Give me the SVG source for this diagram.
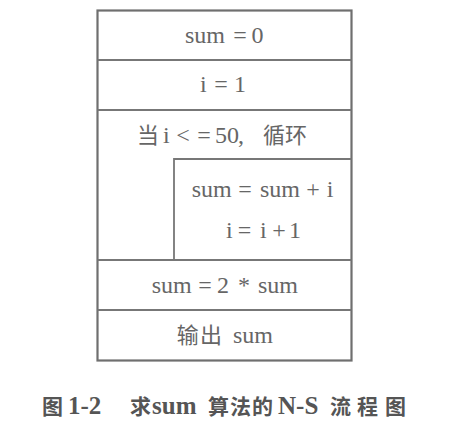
<svg xmlns="http://www.w3.org/2000/svg" width="457" height="436" viewBox="0 0 457 436">
<style>
.t{font-family:"Liberation Serif","Noto Sans CJK SC",serif;font-size:24px;fill:#666}
.c{font-family:"Noto Sans CJK SC",sans-serif;font-size:22px}
.s{font-size:3px}
.ln{stroke:#777;stroke-width:1.8;fill:none}
.ob{stroke:#6f6f6f;stroke-width:2.2;fill:#fff}
.cap{font-family:"Liberation Serif","Noto Sans CJK SC",serif;font-size:25px;font-weight:bold;fill:#555}
.cc{font-family:"Noto Sans CJK SC",sans-serif;font-size:21px}
</style>
<rect width="457" height="436" fill="#fff"/>
<g id="frame">
<rect class="ob" x="97.5" y="10.5" width="254" height="350"/>
</g>
<g id="connectors">
<line class="ln" x1="97.5" y1="60" x2="351.5" y2="60"/>
<line class="ln" x1="97.5" y1="110" x2="351.5" y2="110"/>
<polyline class="ln" points="351.5,159 174,159 174,260"/>
<line class="ln" x1="97.5" y1="260" x2="351.5" y2="260"/>
<line class="ln" x1="97.5" y1="310" x2="351.5" y2="310"/>
</g>
<g id="n1"><text class="t" y="43.3"><tspan x="185">sum</tspan><tspan x="233.2">=</tspan><tspan x="251.5">0</tspan></text></g>
<g id="n2"><text class="t" y="91.7"><tspan x="200">i</tspan><tspan x="214.2">=</tspan><tspan x="234">1</tspan></text></g>
<g id="n3"><text class="t" y="143"><tspan class="c" x="137">当</tspan><tspan class="s"> </tspan><tspan x="163">i</tspan><tspan x="176.2">&lt;</tspan><tspan x="197.2">=</tspan><tspan x="215">50</tspan><tspan x="238">,</tspan><tspan class="c" x="263" font-size="23">循环</tspan></text></g>
<g id="n4"><text class="t" y="196.7"><tspan x="191.7">sum</tspan><tspan x="238.2">=</tspan><tspan x="260">sum</tspan><tspan x="306.2">+</tspan><tspan x="326.7">i</tspan></text>
<text class="t" y="238.3"><tspan x="226">i</tspan><tspan x="237.7">=</tspan><tspan x="260">i</tspan><tspan x="272.2">+</tspan><tspan x="289">1</tspan></text></g>
<g id="n5"><text class="t" y="292.7"><tspan x="151.7">sum</tspan><tspan x="198.2">=</tspan><tspan x="217">2</tspan><tspan class="s"> </tspan><tspan x="238">*</tspan><tspan class="s"> </tspan><tspan x="258">sum</tspan></text></g>
<g id="n6"><text class="t" y="342.7"><tspan class="c" x="176.7">输</tspan><tspan class="c" x="200">出</tspan><tspan class="s"> </tspan><tspan x="233">sum</tspan></text></g>
<g id="caption"><text class="cap" y="413.5"><tspan class="cc" x="42">图</tspan><tspan class="s"> </tspan><tspan x="68">1-2</tspan><tspan class="s"> </tspan><tspan class="cc" x="130">求</tspan><tspan class="s"> </tspan><tspan x="152">sum</tspan><tspan class="s"> </tspan><tspan class="cc" x="208">算</tspan><tspan class="cc" x="230">法</tspan><tspan class="cc" x="252">的</tspan><tspan class="s"> </tspan><tspan x="278">N-S</tspan><tspan class="s"> </tspan><tspan class="cc" x="330">流</tspan><tspan class="cc" x="357">程</tspan><tspan class="cc" x="385">图</tspan></text></g>
</svg>
